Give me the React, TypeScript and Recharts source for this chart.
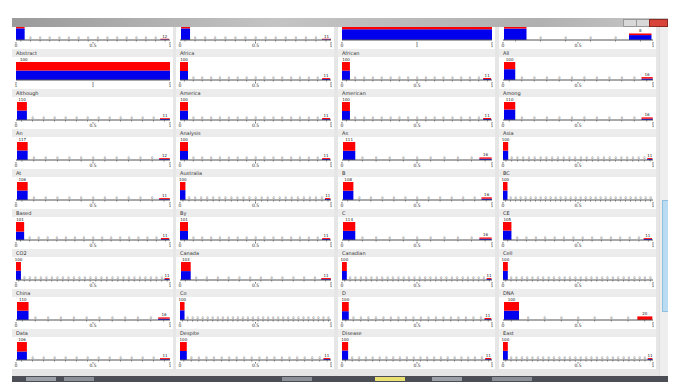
import React from "react";
import { BarChart, Bar, XAxis, YAxis, LabelList } from "recharts";

// panel titles, read row by row (first row titles are hidden under the title bar)
const TITLES = [
  "A", "AIDS", "About", "Above",
  "Abstract", "Africa", "African", "All",
  "Although", "America", "American", "Among",
  "An", "Analysis", "As", "Asia",
  "At", "Australia", "B", "BC",
  "Based", "By", "C", "CE",
  "CO2", "Canada", "Canadian", "Cell",
  "China", "Co", "D", "DNA",
  "Data", "Despite", "Disease", "East",
];

// number of histogram bins in each panel
const BIN_COUNTS = [
  16, 15, 1, 6,
  1, 17, 17, 12,
  14, 17, 17, 12,
  13, 17, 11, 26,
  13, 25, 13, 30,
  17, 17, 11, 16,
  28, 14, 28, 28,
  12, 30, 20, 9,
  14, 20, 22, 28,
];

// counts in the first bin (red = top part, blue = bottom part)
const FIRST_RED = [
  60, 55, 40, 8,
  47, 50, 48, 40,
  52, 48, 50, 46,
  55, 50, 54, 48,
  50, 45, 52, 47,
  54, 50, 56, 50,
  48, 52, 50, 49,
  53, 46, 51, 48,
  56, 50, 47, 49,
];
const FIRST_BLUE = [
  110, 100, 60, 14,
  53, 50, 52, 60,
  58, 52, 50, 64,
  62, 50, 57, 52,
  56, 55, 56, 53,
  47, 51, 58, 55,
  52, 51, 50, 51,
  57, 54, 49, 52,
  50, 50, 53, 51,
];
// counts in the last bin
const LAST_RED = [
  6, 5, 0, 2,
  0, 5, 6, 8,
  5, 6, 5, 8,
  6, 5, 8, 5,
  6, 5, 8, 0,
  6, 5, 8, 5,
  5, 6, 5, 0,
  8, 0, 6, 20,
  6, 5, 6, 5,
];
const LAST_BLUE = [
  6, 6, 0, 6,
  0, 6, 5, 8,
  6, 5, 6, 8,
  6, 6, 8, 6,
  5, 6, 8, 0,
  5, 6, 8, 6,
  6, 5, 6, 0,
  8, 0, 5, 0,
  5, 6, 5, 6,
];

const AXIS_TICKS = [0, 0.5, 1];
const AXIS_LABELS = ["0", "0.5", "1"];
const SINGLE_AXIS_LABELS: Record<number, string[]> = {
  2: ["0", "1", "1"],
  4: ["1", "1", "1"],
};

const COL_LEFT = [12, 176, 338, 499];
const COL_WIDTH = [161, 158, 157, 157];
const ROW_TOP0 = 9;
const ROW_PITCH = 40;
const WIN_TOP = 18;
const WIN_LEFT = 12;
const M_LEFT = 4;
const M_RIGHT = 3;

const RED = "#ff0000";
const BLUE = "#0000ee";
const FONT = "'DejaVu Sans', sans-serif";

function Panel({ idx }: { idx: number }) {
  const n = BIN_COUNTS[idx];
  const data = Array.from({ length: n }, (_, i) => {
    const isFirst = i === 0;
    const isLast = i === n - 1 && n > 1;
    const red = isFirst ? FIRST_RED[idx] : isLast ? LAST_RED[idx] : 0;
    const blue = isFirst ? FIRST_BLUE[idx] : isLast ? LAST_BLUE[idx] : 0;
    return { bin: i, center: (i + 0.5) / n, red, blue, total: red + blue };
  });
  const labels = SINGLE_AXIS_LABELS[idx] ?? AXIS_LABELS;
  const col = idx % 4;
  const row = Math.floor(idx / 4);
  const w = COL_WIDTH[col];
  const barSize = (w - M_LEFT - M_RIGHT) / n;
  const top = ROW_TOP0 + row * ROW_PITCH - WIN_TOP;

  const renderLabel = (p: any) => {
    if (!p.value) return null;
    const wide = p.width > 30;
    return (
      <text
        x={wide ? p.x + 4 : p.x + p.width / 2}
        y={p.y - 1}
        fontSize={4}
        fill="#222"
        textAnchor={wide ? "start" : "middle"}
        fontFamily={FONT}
      >
        {p.value}
      </text>
    );
  };

  // empty bins get a tiny "0" count drawn just above the axis line
  const renderBinTick = (p: any) => {
    const d = data[p.index];
    if (!d || d.total !== 0) return <g />;
    return (
      <text x={p.x} y={p.y - 3} fontSize={3.5} fill="#555" textAnchor="middle" fontFamily={FONT}>
        0
      </text>
    );
  };

  return (
    <div
      style={{
        position: "absolute",
        left: COL_LEFT[col] - WIN_LEFT,
        top,
        width: w,
        height: ROW_PITCH,
        background: "#fff",
      }}
    >
      <div
        style={{
          height: 8,
          background: "#ececec",
          fontSize: 5,
          lineHeight: "8px",
          paddingLeft: 4,
          color: "#333",
          fontFamily: FONT,
        }}
      >
        {top >= 0 ? TITLES[idx] : null}
      </div>
      <BarChart
        width={w}
        height={32}
        data={data}
        margin={{ top: 5, right: M_RIGHT, left: M_LEFT, bottom: 0 }}
        barCategoryGap={0}
        barGap={0}
        style={{ overflow: "visible" }}
      >
        <XAxis
          xAxisId="bins"
          dataKey="bin"
          interval={0}
          tick={n > 1 ? renderBinTick : false}
          tickLine={n > 1 ? { stroke: "#777" } : false}
          tickSize={1.5}
          tickMargin={0}
          axisLine={{ stroke: "#555" }}
          height={2}
        />
        <XAxis
          xAxisId="val"
          dataKey="center"
          type="number"
          domain={[0, 1]}
          ticks={AXIS_TICKS}
          interval={0}
          allowDataOverflow
          axisLine={false}
          tickLine={{ stroke: "#777" }}
          tickSize={1.5}
          tickMargin={0.5}
          height={7}
          tick={{ fontSize: 4.5, fill: "#333", fontFamily: FONT }}
          tickFormatter={(_v: number, i: number) => labels[i]}
        />
        <YAxis hide domain={[0, "dataMax"]} />
        <Bar xAxisId="val" dataKey="blue" stackId="a" fill={BLUE} barSize={barSize} isAnimationActive={false} />
        <Bar xAxisId="val" dataKey="red" stackId="a" fill={RED} barSize={barSize} isAnimationActive={false}>
          <LabelList dataKey="total" content={renderLabel} />
        </Bar>
      </BarChart>
    </div>
  );
}

export default function App() {
  return (
    <div
      style={{
        position: "absolute",
        left: 0,
        top: 0,
        width: 697,
        height: 387,
        background: "#fff",
        overflow: "hidden",
      }}
    >
      <div
        style={{
          position: "absolute",
          left: WIN_LEFT,
          top: WIN_TOP,
          width: 656,
          height: 358,
          background: "#e6e6e6",
          overflow: "hidden",
        }}
      >
        {TITLES.map((_, i) => (
          <Panel key={i} idx={i} />
        ))}
        {/* title bar */}
        <div
          style={{
            position: "absolute",
            left: 0,
            top: 0,
            width: 656,
            height: 9,
            background: "linear-gradient(90deg, #9a9a9a, #c4c4c4 40%, #b0b0b0 80%, #c8c8c8)",
          }}
        >
          <div style={{ position: "absolute", left: 611, top: 1, width: 12, height: 6, background: "#d8d8d8", border: "1px solid #999" }} />
          <div style={{ position: "absolute", left: 624, top: 1, width: 12, height: 6, background: "#d8d8d8", border: "1px solid #999" }} />
          <div style={{ position: "absolute", left: 637, top: 1, width: 17, height: 6, background: "#d9443a", border: "1px solid #8a2a22" }} />
        </div>
        {/* scrollbar */}
        <div
          style={{
            position: "absolute",
            left: 647,
            top: 9,
            width: 9,
            height: 349,
            background: "#eeeeee",
            borderLeft: "1px solid #ddd",
          }}
        >
          <div style={{ position: "absolute", left: 2, top: 173, width: 5, height: 110, background: "#b9dcf2", border: "1px solid #8fc0e0" }} />
        </div>
      </div>
      {/* taskbar */}
      <div
        style={{
          position: "absolute",
          left: 12,
          top: 376,
          width: 656,
          height: 6,
          background: "#4b4f55",
        }}
      >
        <div style={{ position: "absolute", left: 14, top: 1, width: 30, height: 4, background: "#9aa0a6" }} />
        <div style={{ position: "absolute", left: 52, top: 1, width: 30, height: 4, background: "#8a9096" }} />
        <div style={{ position: "absolute", left: 270, top: 1, width: 30, height: 4, background: "#8a9096" }} />
        <div style={{ position: "absolute", left: 363, top: 1, width: 30, height: 4, background: "#e8e070" }} />
        <div style={{ position: "absolute", left: 420, top: 1, width: 30, height: 4, background: "#9aa0a6" }} />
        <div style={{ position: "absolute", left: 480, top: 1, width: 40, height: 4, background: "#8a9096" }} />
      </div>
    </div>
  );
}
